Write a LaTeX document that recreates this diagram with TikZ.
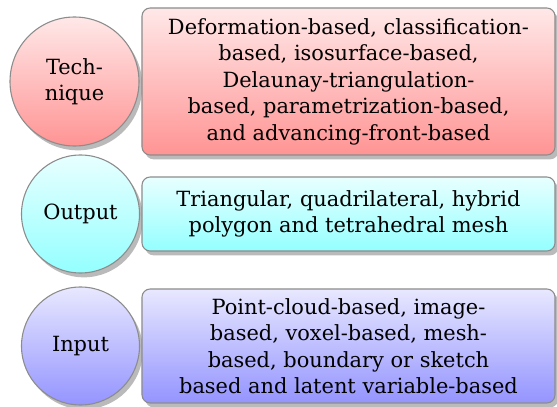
\documentclass[tikz,border=0pt]{standalone}
\usepackage{fontspec}
\setmainfont{DejaVu Serif}
\usetikzlibrary{shadows}
\newcommand{\pxu}{0.416pt}
\begin{document}
\begin{tikzpicture}[x=\pxu,y=-\pxu]
\useasboundingbox (0,0) rectangle (557,407);
\tikzset{
  base/.style={draw=black!45, line width=0.45pt, align=center,
    font=\fontsize{8.7pt}{11pt}\selectfont,
    drop shadow={shadow xshift=1.4pt, shadow yshift=-1.8pt, fill=black!30, opacity=0.9}},
  item/.style={base, circle, inner sep=0pt},
  desc/.style={base, rounded corners=3.4pt, inner sep=0pt, minimum width={413*\pxu}},
  redshade/.style={top color=red!9, bottom color=red!42},
  cyanshade/.style={top color=cyan!9, bottom color=cyan!42},
  blueshade/.style={top color=blue!9, bottom color=blue!42}
}
% left-hand circles
\node[item, redshade, minimum size={129*\pxu}] (tech) at (74.5,81.5) {Tech-\\nique};
\node[item, cyanshade, minimum size={118*\pxu}] (out) at (80.5,214) {Output};
\node[item, blueshade, minimum size={118*\pxu}] (inp) at (80.5,346) {Input};
% description boxes
\node[desc, redshade, minimum height={147*\pxu}] (techd) at (348.5,81.5)
  {Deformation-based, classification-\\based, isosurface-based,\\Delaunay-triangulation-\\based, parametrization-based,\\and advancing-front-based};
\node[desc, cyanshade, minimum height={74*\pxu}] (outd) at (348.5,214)
  {Triangular, quadrilateral, hybrid\\polygon and tetrahedral mesh};
\node[desc, blueshade, minimum height={114*\pxu}] (inpd) at (348.5,346)
  {Point-cloud-based, image-\\based, voxel-based, mesh-\\based, boundary or sketch\\based and latent variable-based};
\end{tikzpicture}
\end{document}
